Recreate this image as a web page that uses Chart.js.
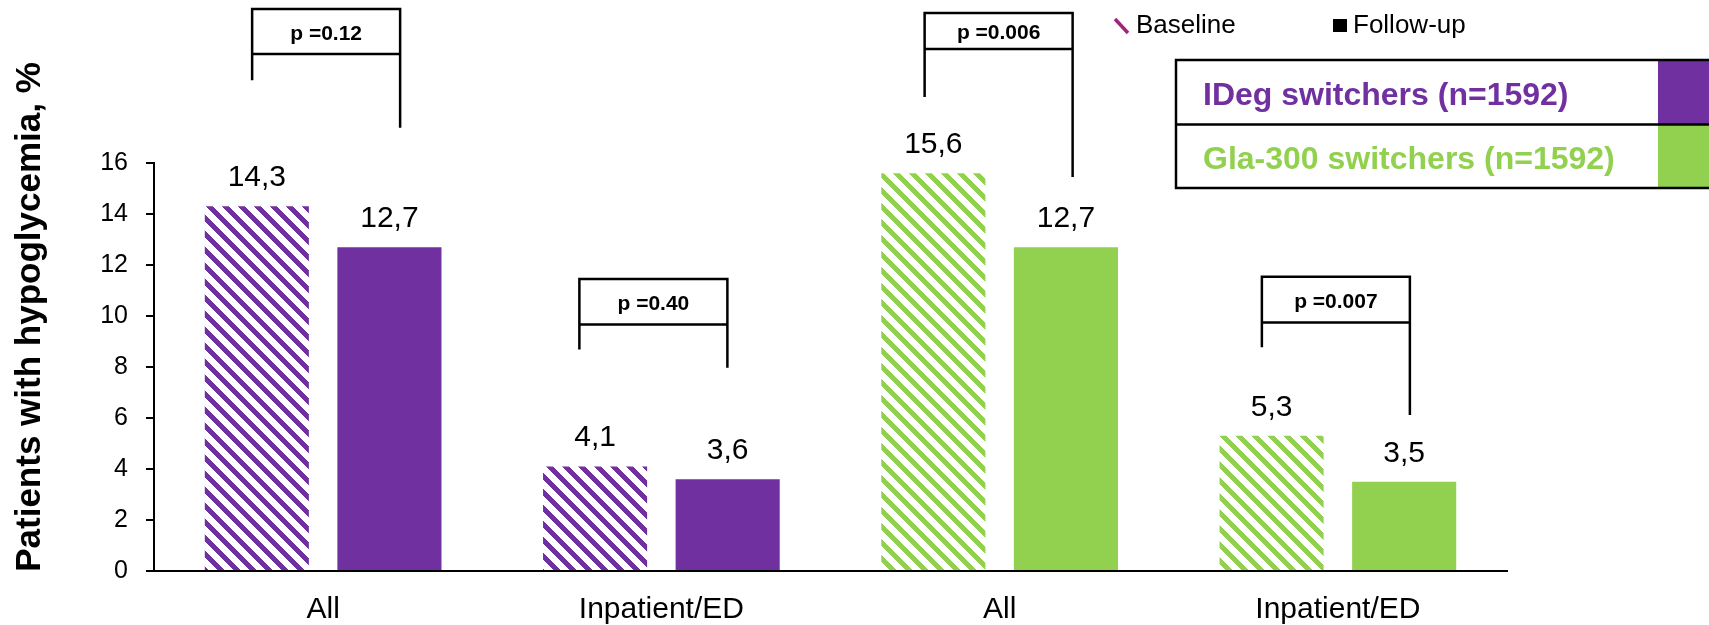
<!DOCTYPE html>
<html>
<head>
<meta charset="utf-8">
<script src="https://cdn.jsdelivr.net/npm/chart.js@4/dist/chart.umd.min.js"></script>
<style>
  html, body { margin: 0; padding: 0; background: #ffffff; }
  canvas { display: block; }
</style>
</head>
<body>
<canvas id="c" width="1709" height="625"></canvas>
<script>
// ---- data ----
const categories = ['All', 'Inpatient/ED', 'All', 'Inpatient/ED'];
const baseline   = [14.3, 4.1, 15.6, 5.3];
const followUp   = [12.7, 3.6, 12.7, 3.5];
const cohortOf   = [0, 0, 1, 1];
const cohortNames = ['IDeg switchers (n=1592)', 'Gla-300 switchers (n=1592)'];
const seriesNames = ['Baseline', 'Follow-up'];
const pLabels    = ['p =0.12', 'p =0.40', 'p =0.006', 'p =0.007'];
const yMin = 0, yMax = 16, yStep = 2;
const yTitle = 'Patients with hypoglycemia, %';

// ---- styling ----
const COHORT_COLORS = ['#7030A0', '#92D050'];
const FONT = '"Liberation Sans", Arial, Helvetica, sans-serif';

// significance brackets: y levels in axis units, dx = shift from category centre (px)
const bracketLayout = [
  { dx: 3,  top: 22.04, boxBottom: 20.27, leftEnd: 19.25, rightEnd: 17.38 },
  { dx: -8, top: 11.45, boxBottom: 9.67,  leftEnd: 8.69,  rightEnd: 7.97 },
  { dx: -1, top: 21.88, boxBottom: 20.47, leftEnd: 18.59, rightEnd: 15.45 },
  { dx: -2, top: 11.54, boxBottom: 9.75,  leftEnd: 8.77,  rightEnd: 6.12 }
];
const BRACKET_HALF = 74;

const canvas = document.getElementById('c');
const ctx0 = canvas.getContext('2d');

// diagonal "\" stripe fill for the baseline bars
function hatch(color) {
  const s = 16;
  const c = document.createElement('canvas');
  c.width = s; c.height = s;
  const g = c.getContext('2d');
  g.fillStyle = color;
  for (let y = 0; y < s; y++) {
    for (let x = 0; x < s; x++) {
      if ((((x - y) % s) + s) % s < 7) g.fillRect(x, y, 1, 1);
    }
  }
  return ctx0.createPattern(c, 'repeat');
}
const HATCHES = COHORT_COLORS.map(hatch);

const fmt = v => String(v).replace('.', ',');

const overlay = {
  id: 'overlay',
  afterDatasetsDraw(chart) {
    const ctx = chart.ctx;
    const xs = chart.scales.x, ys = chart.scales.y;

    // value labels above bars
    ctx.save();
    ctx.fillStyle = '#000';
    ctx.font = '30px ' + FONT;
    ctx.textAlign = 'center';
    ctx.textBaseline = 'alphabetic';
    chart.data.datasets.forEach((ds, di) => {
      chart.getDatasetMeta(di).data.forEach((bar, i) => {
        ctx.fillText(fmt(ds.data[i]), bar.x, bar.y - 20);
      });
    });
    ctx.restore();

    // p-value brackets
    ctx.save();
    ctx.strokeStyle = '#000';
    ctx.lineWidth = 2.5;
    ctx.lineCap = 'butt';
    bracketLayout.forEach((b, i) => {
      const cx = xs.getPixelForValue(i) + b.dx;
      const l = cx - BRACKET_HALF, r = cx + BRACKET_HALF;
      const yt = ys.getPixelForValue(b.top);
      const yb = ys.getPixelForValue(b.boxBottom);
      const yl = ys.getPixelForValue(b.leftEnd);
      const yr = ys.getPixelForValue(b.rightEnd);
      ctx.beginPath();
      ctx.moveTo(l, yl); ctx.lineTo(l, yt); ctx.lineTo(r, yt); ctx.lineTo(r, yr);
      ctx.moveTo(l, yb); ctx.lineTo(r, yb);
      ctx.stroke();
      ctx.fillStyle = '#000';
      ctx.font = 'bold 21px ' + FONT;
      ctx.textAlign = 'center';
      ctx.textBaseline = 'alphabetic';
      ctx.fillText(pLabels[i], cx, (yt + yb) / 2 + 8);
    });
    ctx.restore();
  },
  afterDraw(chart) {
    const ctx = chart.ctx;
    ctx.save();

    // y-axis title
    ctx.save();
    ctx.translate(40, 317);
    ctx.rotate(-Math.PI / 2);
    ctx.fillStyle = '#000';
    ctx.font = 'bold 35px ' + FONT;
    ctx.textAlign = 'center';
    ctx.textBaseline = 'alphabetic';
    ctx.fillText(yTitle, 0, 0);
    ctx.restore();

    // series legend
    ctx.strokeStyle = '#a0267a';
    ctx.lineWidth = 3.5;
    ctx.beginPath();
    ctx.moveTo(1115, 19); ctx.lineTo(1128, 33);
    ctx.stroke();
    ctx.fillStyle = '#000';
    ctx.font = '26px ' + FONT;
    ctx.textAlign = 'left';
    ctx.textBaseline = 'alphabetic';
    ctx.fillText(seriesNames[0], 1136, 33);
    ctx.fillRect(1333, 19, 14, 13);
    ctx.fillText(seriesNames[1], 1353, 33);

    // cohort key table
    const rows = [[60, 124.5], [124.5, 188]];
    rows.forEach((rw, i) => {
      ctx.fillStyle = COHORT_COLORS[i];
      ctx.fillRect(1658, rw[0], 60, rw[1] - rw[0]);
      ctx.font = 'bold 32px ' + FONT;
      ctx.fillText(cohortNames[i], 1203, (rw[0] + rw[1]) / 2 + 12.5);
    });
    ctx.strokeStyle = '#000';
    ctx.lineWidth = 2.5;
    ctx.beginPath();
    ctx.moveTo(1720, 60); ctx.lineTo(1176, 60); ctx.lineTo(1176, 188); ctx.lineTo(1720, 188);
    ctx.moveTo(1176, 124.5); ctx.lineTo(1720, 124.5);
    ctx.stroke();

    ctx.restore();
  }
};

new Chart(canvas, {
  type: 'bar',
  data: {
    labels: categories,
    datasets: [
      {
        label: seriesNames[0],
        data: baseline,
        backgroundColor: cohortOf.map(k => HATCHES[k]),
        borderWidth: 0
      },
      {
        label: seriesNames[1],
        data: followUp,
        backgroundColor: cohortOf.map(k => COHORT_COLORS[k]),
        borderWidth: 0
      }
    ]
  },
  options: {
    responsive: false,
    animation: false,
    devicePixelRatio: 1,
    layout: { padding: { top: 163, right: 202, bottom: 0, left: 0 } },
    datasets: { bar: { categoryPercentage: 0.784, barPercentage: 0.785 } },
    plugins: {
      legend: { display: false },
      tooltip: { enabled: false },
      title: { display: false }
    },
    scales: {
      x: {
        grid: { display: false },
        border: { display: true, color: '#000', width: 2 },
        ticks: { color: '#000', font: { family: FONT, size: 30 }, padding: 13, maxRotation: 0 },
        afterFit(s) { s.height = 54; }
      },
      y: {
        min: yMin,
        max: yMax,
        ticks: { stepSize: yStep, color: '#000', font: { family: FONT, size: 25 }, padding: 18 },
        grid: { drawOnChartArea: false, drawTicks: true, tickLength: 8, color: '#000', lineWidth: 2 },
        border: { display: true, color: '#000', width: 2 },
        afterFit(s) { s.width = 154; }
      }
    }
  },
  plugins: [overlay]
});
</script>
</body>
</html>
